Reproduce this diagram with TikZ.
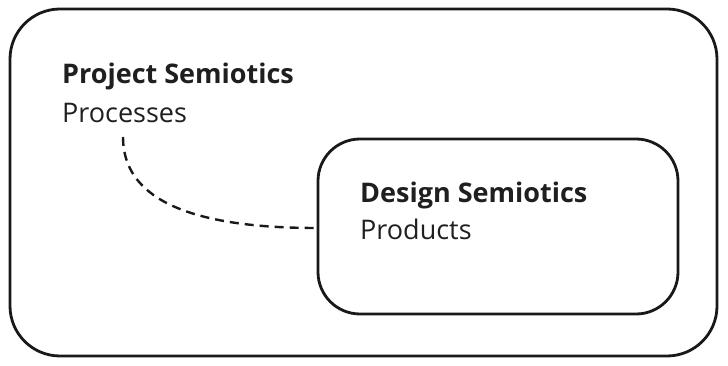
\documentclass[tikz,border=0pt]{standalone}
\usepackage{fontspec}
\setmainfont{Open Sans}
\begin{document}
\begin{tikzpicture}[x=1pt,y=-1pt,
  frame/.style={draw=black!90, line width=2.8pt, rounded corners=#1},
  title/.style={anchor=base west, inner sep=0pt, font=\fontsize{27}{32}\selectfont\bfseries, text=black!88},
  sub/.style={anchor=base west, inner sep=0pt, font=\fontsize{27}{32}\selectfont, text=black!88},
  link/.style={draw=black!90, line width=2.4pt, dash pattern=on 9pt off 6pt}]
\useasboundingbox (0,0) rectangle (728,366);
\node[frame=50pt, minimum width=707pt, minimum height=347pt, inner sep=0pt] (outer) at (363.5,182.5) {};
\node[frame=42pt, minimum width=360pt, minimum height=175pt, inner sep=0pt] (inner) at (498,226.5) {};
\node[title] (pt) at (62,84) {Project Semiotics};
\node[sub] (pp) at (62,123) {Processes};
\node[title] (dt) at (360,203) {Design Semiotics};
\node[sub] (dp) at (360,240) {Products};
\coordinate (s) at (123,137);
\coordinate (e) at (inner.west |- 0,228);
\draw[link] (s) .. controls (123,188) and (168,228) .. (e);
\end{tikzpicture}
\end{document}
